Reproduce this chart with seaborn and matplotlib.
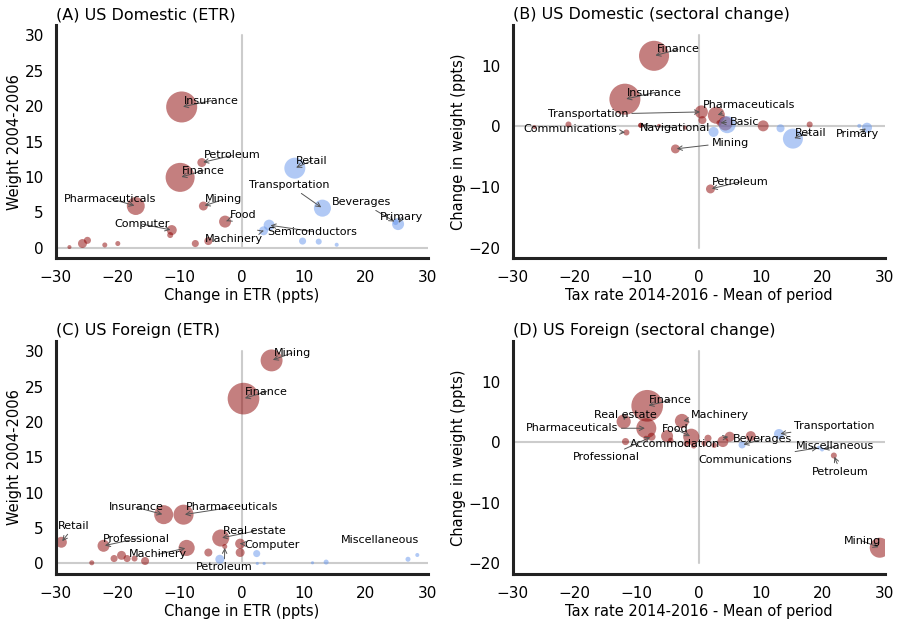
import numpy as np
import pandas as pd
import matplotlib
matplotlib.use("Agg")
from matplotlib import pyplot as plt
import seaborn as sns

# ---- panel A: US Domestic, ETR change vs weight 2004-2006
a_sector = ['Insurance', 'Finance', 'Petroleum', 'Retail', 'Transportation', 'Primary', 'Beverages',
            'Pharmaceuticals', 'Mining', 'Food', 'Computer', '', 'Semiconductors', 'Machinery', '',
            '', '', '', '', '', '', '', '', '']
a_x = [-9.7, -9.95, -6.45, 8.55, 13.0, 25.2, 24.8, -17.1, -6.2, -2.7, -11.3, -11.55, 4.4, 3.5, -5.4,
       -27.8, -25.7, -24.9, -22.1, -20.0, -7.5, 9.8, 12.4, 15.3]
a_y = [19.9, 9.95, 12.05, 11.25, 5.6, 3.35, 3.6, 5.9, 5.9, 3.7, 2.5, 1.8, 3.2, 2.4, 0.95,
       0.1, 0.6, 1.05, 0.4, 0.6, 0.6, 0.95, 0.87, 0.43]
a_w = [9.6, 8.4, 0.8, 4.4, 2.9, 1.44, 0.3, 3.2, 0.8, 1.44, 1.0, 0.36, 1.2, 0.8, 0.64,
       0.16, 0.8, 0.5, 0.25, 0.25, 0.5, 0.5, 0.36, 0.16]
a_grp = ['down', 'down', 'down', 'up', 'up', 'up', 'up', 'down', 'down', 'down', 'down', 'down', 'up', 'up', 'down',
         'down', 'down', 'down', 'down', 'down', 'down', 'up', 'up', 'up']

# ---- panel B: US Domestic, sectoral change
b_sector = ['Finance', 'Insurance', 'Pharmaceuticals', 'Transportation', '', 'Basic', '', '', '', '', 'Retail',
            'Primary', '', '', 'Mining', 'Petroleum', 'Communications', 'Navigational', '', '', '', '', '', '']
b_x = [-7.2, -11.9, 2.85, 0.43, 0.6, 3.3, 4.3, 4.6, 10.4, 13.2, 15.2,
       27.15, 25.9, 2.4, -3.75, 1.9, -11.65, -9.35, -9.35, -6.4, -2.2, -21.0, -26.5, 17.9]
b_y = [11.65, 4.5, 1.85, 2.4, 1.05, 0.6, 0.5, 0.3, 0.1, -0.3, -2.0,
       -0.2, 0.1, -0.9, -3.7, -10.3, -0.99, 0.2, 0.2, 0.1, -0.2, 0.33, -0.1, 0.33]
b_w = [9.0, 9.6, 2.9, 1.7, 0.64, 0.3, 2.0, 2.9, 1.2, 0.64, 4.0,
       1.0, 0.16, 1.0, 0.8, 0.8, 0.36, 0.25, 0.25, 0.16, 0.16, 0.36, 0.16, 0.36]
b_grp = ['down', 'down', 'down', 'down', 'down', 'down', 'down', 'up', 'down', 'up', 'up',
         'up', 'up', 'up', 'down', 'down', 'down', 'down', 'down', 'down', 'down', 'down', 'down', 'down']

# ---- panel C: US Foreign, ETR change vs weight 2004-2006
c_sector = ['Mining', 'Finance', 'Insurance', 'Pharmaceuticals', 'Retail', 'Professional', 'Machinery',
            'Real estate', 'Computer', 'Petroleum', '', '', '', '', '', '', '', '', '', '', '', '', '',
            '', '', 'Miscellaneous']
c_x = [4.8, 0.27, -12.6, -9.4, -29.1, -22.3, -8.9, -3.4, -0.27, -2.75, -3.55, -0.27, -5.4, -15.6,
       -20.6, -19.4, -18.5, -17.3, -24.2, 2.4, 2.5, 3.6, 11.4, 13.6, 26.8, 28.3]
c_y = [28.7, 23.3, 6.9, 6.9, 3.0, 2.5, 2.2, 3.6, 2.8, 2.4, 0.6, 1.55, 1.55, 0.35,
       0.7, 1.15, 0.7, 0.7, 0.1, 1.4, 0.0, 0.0, 0.1, 0.2, 0.6, 1.2]
c_w = [4.8, 11.6, 3.6, 4.0, 1.2, 1.44, 2.6, 2.9, 1.0, 0.25, 0.8, 0.8, 0.64, 0.64,
       0.5, 0.8, 0.5, 0.36, 0.25, 0.5, 0.1, 0.1, 0.1, 0.25, 0.25, 0.16]
c_grp = ['down'] * 10 + ['up'] + ['down'] * 8 + ['up'] * 7

# ---- panel D: US Foreign, sectoral change
d_sector = ['Finance', 'Real estate', 'Pharmaceuticals', 'Machinery', 'Food', '', 'Professional', '',
            'Accommodation', '', '', '', 'Beverages', 'Transportation', 'Communications', 'Miscellaneous',
            'Petroleum', 'Mining', '', '', '', '', '', '']
d_x = [-8.3, -12.1, -8.45, -2.7, -1.2, -5.1, -7.6, -11.8, 5.0, 3.9, 8.4, 1.5, 7.0, 12.95, 19.4, 19.9,
       21.8, 29.2, -2.0, -0.8, 0.9, 2.5, -8.5, -4.5]
d_y = [6.0, 3.4, 2.3, 3.5, 0.9, 1.0, 0.9, 0.1, 0.9, 0.1, 1.0, 0.65, -0.45, 1.35, -0.9, -1.2,
       -2.2, -17.4, -0.3, -0.6, -0.2, -0.5, 0.65, 0.3]
d_w = [10.2, 2.0, 4.0, 2.0, 2.6, 1.44, 0.64, 0.5, 1.0, 1.2, 1.0, 0.5, 0.5, 1.0, 0.16, 0.16,
       0.36, 4.0, 0.3, 0.3, 0.3, 0.3, 0.25, 0.3]
d_grp = ['down'] * 12 + ['up', 'up', 'up', 'up', 'down', 'down'] + ['down'] * 6

# label text anchors (left edge, vertical centre)
a_labels = {'Insurance': (-9.3, 20.8), 'Petroleum': (-6.1, 13.05), 'Finance': (-9.7, 10.9),
            'Retail': (8.7, 12.3), 'Transportation': (1.2, 8.85), 'Beverages': (14.6, 6.45),
            'Primary': (22.3, 4.3), 'Pharmaceuticals': (-28.65, 6.95), 'Mining': (-5.9, 6.85),
            'Food': (-1.9, 4.7), 'Computer': (-20.6, 3.35), 'Semiconductors': (4.15, 2.3),
            'Machinery': (-5.9, 1.2)}
b_labels = {'Finance': (-6.8, 12.7), 'Insurance': (-11.5, 5.6), 'Transportation': (-24.3, 2.0),
            'Pharmaceuticals': (0.7, 3.5), 'Basic': (5.0, 0.8), 'Communications': (-28.2, -0.45),
            'Navigational': (-9.5, -0.2), 'Retail': (15.5, -1.0), 'Primary': (22.2, -1.25),
            'Mining': (2.05, -2.65), 'Petroleum': (2.2, -9.1)}
c_labels = {'Mining': (5.1, 29.75), 'Finance': (0.55, 24.3), 'Insurance': (-21.5, 7.95),
            'Pharmaceuticals': (-9.0, 7.95), 'Retail': (-29.6, 5.3), 'Professional': (-22.4, 3.5),
            'Machinery': (-18.2, 1.3), 'Real estate': (-3.1, 4.55), 'Computer': (0.4, 2.6),
            'Petroleum': (-7.4, -0.5), 'Miscellaneous': (15.9, 3.35)}
d_labels = {'Finance': (-8.05, 6.9), 'Real estate': (-16.9, 4.5), 'Pharmaceuticals': (-27.9, 2.3),
            'Machinery': (-1.2, 4.5), 'Food': (-6.0, 2.2), 'Accommodation': (-11.1, -0.3),
            'Professional': (-20.3, -2.5), 'Beverages': (5.5, 0.5), 'Transportation': (15.4, 2.7),
            'Communications': (-0.1, -2.9), 'Miscellaneous': (15.7, -0.7), 'Petroleum': (18.3, -4.9),
            'Mining': (23.4, -16.3)}
no_arrow = {('C', 'Miscellaneous')}

sns.set_style('white')
plt.rcParams['font.family'] = ['DejaVu Sans']
plt.rcParams['text.color'] = 'black'
plt.rcParams['axes.labelcolor'] = 'black'
plt.rcParams['xtick.color'] = 'black'
plt.rcParams['ytick.color'] = 'black'

palette = {'down': '#8b0000', 'up': '#6495ed'}

fig, axes = plt.subplots(2, 2, figsize=(9, 6.22), dpi=100)
fig.subplots_adjust(left=0.062, right=0.983, top=0.96, bottom=0.077, wspace=0.228, hspace=0.352)


def panel(ax, tag, title, sector, x, y, w, grp, labels, etr):
    df = pd.DataFrame({'sector': sector, 'x': x, 'y': y, 'w': w, 'grp': grp})
    ax.plot([-30, 30], [0, 0], color='#cccccc', lw=1.5, zorder=0)
    if etr:
        ax.plot([0, 0], [0, 30], color='#cccccc', lw=1.5, zorder=0)
    else:
        ax.plot([0, 0], [-20, 15], color='#cccccc', lw=1.5, zorder=0)
    sns.scatterplot(data=df, x='x', y='y', hue='grp', palette=palette, size='w',
                    sizes=(0, 520), size_norm=(0, 10), alpha=0.5, linewidth=0,
                    legend=False, ax=ax, zorder=2)
    pts = df[df['sector'] != ''].set_index('sector')
    for name, (tx, ty) in labels.items():
        px, py = pts.loc[name, 'x'], pts.loc[name, 'y']
        if (tag, name) in no_arrow:
            ax.text(tx, ty, name, fontsize=8, ha='left', va='center', zorder=3)
        else:
            ax.annotate(name, xy=(px, py), xytext=(tx, ty), fontsize=8, ha='left', va='center',
                        arrowprops=dict(arrowstyle='->', color='#555555', lw=0.7, shrinkA=0, shrinkB=1),
                        zorder=3)
    ax.set_xlim(-30, 30)
    ax.set_xticks([-30, -20, -10, 0, 10, 20, 30])
    if etr:
        ax.set_ylim(-1.5, 31.5)
        ax.set_yticks([0, 5, 10, 15, 20, 25, 30])
        ax.set_xlabel('Change in ETR (ppts)', fontsize=10.5, labelpad=2)
        ax.set_ylabel('Weight 2004-2006', fontsize=10.5, labelpad=2)
    else:
        ax.set_ylim(-21.75, 16.75)
        ax.set_yticks([-20, -10, 0, 10])
        ax.set_xlabel('Tax rate 2014-2016 - Mean of period', fontsize=10.5, labelpad=2)
        ax.set_ylabel('Change in weight (ppts)', fontsize=10.5, labelpad=2)
    ax.set_title(title, loc='left', fontsize=11.5, pad=4)
    ax.tick_params(labelsize=11, pad=5)
    sns.despine(ax=ax)
    for s in ['left', 'bottom']:
        ax.spines[s].set_linewidth(2.2)
        ax.spines[s].set_color('#222222')


panel(axes[0, 0], 'A', '(A) US Domestic (ETR)', a_sector, a_x, a_y, a_w, a_grp, a_labels, True)
panel(axes[0, 1], 'B', '(B) US Domestic (sectoral change)', b_sector, b_x, b_y, b_w, b_grp, b_labels, False)
panel(axes[1, 0], 'C', '(C) US Foreign (ETR)', c_sector, c_x, c_y, c_w, c_grp, c_labels, True)
panel(axes[1, 1], 'D', '(D) US Foreign (sectoral change)', d_sector, d_x, d_y, d_w, d_grp, d_labels, False)

fig.savefig('out.png', dpi=100)
